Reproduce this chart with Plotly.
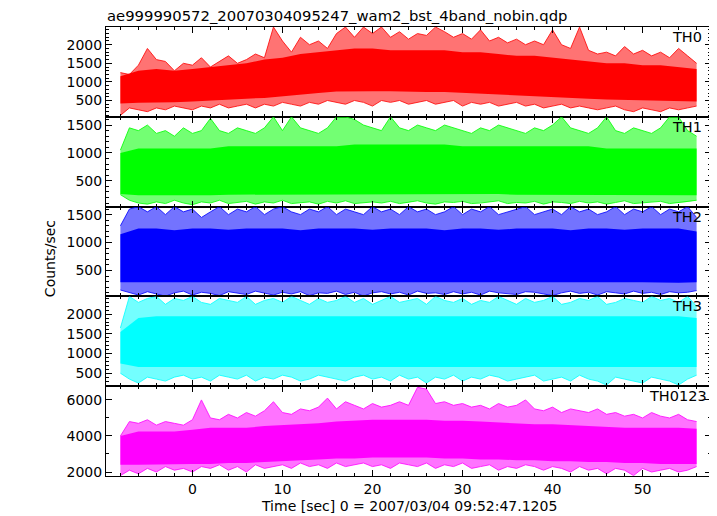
import plotly.graph_objects as go
from plotly.subplots import make_subplots

# ---- data ----
# Dense-core envelope, 2-s bins
t_core = [-8, -6, -4, -2, 0, 2, 4, 6, 8, 10, 12, 14, 16, 18, 20, 22, 24, 26, 28, 30,
          32, 34, 36, 38, 40, 42, 44, 46, 48, 50, 52, 54, 56]
# Extreme (spike) envelope, 1-s bins
t_spk = list(range(-8, 57))

th0_core_hi = [1150, 1300, 1350, 1300, 1350, 1400, 1450, 1500, 1600, 1650, 1750, 1800, 1850, 1900, 1900, 1850,
               1850, 1850, 1850, 1800, 1800, 1750, 1700, 1700, 1650, 1600, 1550, 1500, 1500, 1450, 1450, 1400, 1350]
th0_core_lo = [420, 440, 450, 450, 470, 500, 530, 550, 570, 600, 650, 700, 740, 750, 750, 750,
               750, 730, 730, 710, 690, 670, 650, 630, 600, 570, 550, 530, 510, 500, 490, 480, 470]
th0_max = [1250, 1200, 1450, 1900, 1600, 1550, 1300, 1500, 1450, 1650, 1400, 1550, 1700, 1500, 1600, 1750,
           1650, 2476, 2100, 1800, 2200, 2000, 2100, 1900, 2300, 2476, 2200, 2476, 2300, 2476, 2200, 2350,
           2150, 2300, 2250, 2476, 2350, 2200, 2300, 2150, 2400, 2100, 2200, 2050, 2150, 2000, 2100, 2000,
           2400, 2000, 1900, 2476, 1850, 1750, 1800, 1700, 1950, 1750, 1850, 1700, 1800, 1650, 1900, 1700, 1500]
th0_min = [100, 300, 250, 200, 300, 250, 350, 300, 250, 350, 300, 400, 300, 350, 400, 300, 400, 350, 450, 400,
           350, 450, 400, 500, 450, 400, 500, 450, 350, 500, 450, 500, 400, 450, 500, 400, 450, 500, 350, 450,
           400, 450, 350, 400, 450, 350, 400, 300, 350, 400, 300, 350, 300, 250, 300, 350, 250, 200, 300, 250,
           200, 300, 250, 300, 350]

th1_core_hi = [1000, 1080, 1080, 1080, 1080, 1080, 1120, 1120, 1120, 1120, 1120, 1120, 1120, 1150, 1150, 1150,
               1150, 1150, 1150, 1120, 1120, 1120, 1120, 1120, 1120, 1120, 1120, 1080, 1080, 1080, 1080, 1080, 1080]
th1_core_lo = [260, 240, 240, 240, 240, 240, 250, 250, 250, 250, 250, 260, 260, 260, 260, 260,
               260, 260, 260, 260, 260, 260, 250, 250, 250, 250, 250, 250, 240, 240, 240, 240, 240]
th1_max = [1050, 1450, 1400, 1500, 1350, 1400, 1300, 1450, 1350, 1400, 1620, 1400, 1350, 1450, 1400, 1350,
           1450, 1648, 1400, 1648, 1450, 1400, 1350, 1450, 1648, 1648, 1600, 1500, 1450, 1400, 1648, 1450,
           1400, 1500, 1450, 1400, 1500, 1450, 1400, 1350, 1450, 1400, 1500, 1450, 1400, 1350, 1450, 1400,
           1500, 1648, 1450, 1400, 1350, 1450, 1648, 1400, 1350, 1450, 1400, 1350, 1450, 1648, 1648, 1400, 1300]
th1_min = [250, 150, 100, 80, 120, 90, 150, 100, 70, 120, 100, 150, 90, 110, 130, 80, 120, 100, 150, 90,
           110, 120, 80, 130, 100, 140, 90, 110, 120, 100, 130, 90, 110, 140, 100, 80, 120, 110, 130, 90,
           100, 120, 140, 90, 110, 100, 130, 80, 120, 110, 90, 130, 100, 120, 80, 110, 140, 90, 100, 120,
           130, 90, 110, 120, 150]

th2_core_hi = [1150, 1250, 1250, 1220, 1250, 1250, 1230, 1250, 1250, 1250, 1220, 1250, 1250, 1250, 1230, 1250,
               1250, 1250, 1220, 1250, 1250, 1230, 1250, 1250, 1250, 1220, 1250, 1250, 1230, 1250, 1250, 1250, 1200]
th2_core_lo = [290, 280, 280, 290, 290, 290, 280, 290, 290, 290, 280, 290, 290, 290, 290, 290,
               280, 290, 290, 290, 290, 280, 290, 290, 290, 290, 280, 290, 290, 290, 290, 280, 290]
th2_max = [1300, 1600, 1644, 1550, 1644, 1500, 1644, 1550, 1600, 1450, 1550, 1644, 1500, 1600, 1550, 1644,
           1500, 1600, 1644, 1550, 1500, 1600, 1550, 1644, 1500, 1600, 1550, 1500, 1644, 1550, 1600, 1500,
           1644, 1550, 1600, 1500, 1550, 1644, 1500, 1600, 1550, 1644, 1500, 1550, 1600, 1644, 1500, 1550,
           1600, 1500, 1644, 1550, 1600, 1500, 1550, 1644, 1500, 1600, 1550, 1644, 1500, 1600, 1550, 1644, 1450]
th2_min = [150, 100, 60, 120, 80, 40, 100, 130, 60, 110, 90, 50, 120, 100, 70, 130, 90, 60, 110, 80,
           120, 50, 100, 90, 130, 70, 110, 40, 100, 120, 80, 110, 60, 130, 90, 100, 70, 120, 80, 110,
           60, 130, 100, 90, 70, 120, 110, 80, 50, 100, 130, 90, 110, 60, 120, 100, 80, 130, 90, 110,
           70, 120, 100, 110, 140]

th3_core_hi = [1550, 1900, 1950, 1950, 1950, 1950, 1950, 1950, 1950, 1950, 1950, 1950, 1950, 1950, 1950, 1950,
               1950, 1950, 1950, 1950, 1950, 1950, 1950, 1950, 1950, 1950, 1950, 1950, 1950, 1950, 1950, 1950, 1900]
th3_core_lo = [750, 660, 660, 660, 660, 660, 670, 670, 670, 670, 670, 670, 670, 670, 670, 670,
               670, 670, 670, 670, 670, 670, 670, 670, 670, 670, 670, 660, 660, 660, 660, 660, 660]
th3_max = [1650, 2452, 2300, 2400, 2452, 2250, 2400, 2350, 2452, 2300, 2250, 2400, 2350, 2300, 2452, 2250,
           2350, 2400, 2300, 2452, 2350, 2250, 2400, 2300, 2350, 2452, 2300, 2400, 2250, 2350, 2452, 2300,
           2350, 2400, 2250, 2452, 2350, 2300, 2400, 2250, 2350, 2300, 2452, 2350, 2250, 2400, 2300, 2350,
           2452, 2250, 2300, 2400, 2350, 2452, 2250, 2300, 2400, 2350, 2300, 2452, 2350, 2400, 2300, 2452, 2200]
th3_min = [500, 350, 250, 400, 350, 300, 400, 450, 350, 400, 300, 450, 400, 350, 450, 300, 400, 350, 450, 400,
           300, 350, 450, 400, 350, 300, 400, 450, 350, 400, 300, 450, 350, 400, 250, 400, 350, 450, 300, 400,
           350, 450, 400, 300, 350, 400, 450, 300, 350, 400, 300, 450, 350, 300, 200, 400, 350, 300, 250, 400,
           350, 300, 200, 350, 450]

th0123_core_hi = [4000, 4250, 4250, 4250, 4350, 4450, 4450, 4450, 4550, 4600, 4650, 4700, 4800, 4850, 4900, 4900,
                  4900, 4900, 4850, 4850, 4800, 4750, 4700, 4650, 4650, 4600, 4550, 4500, 4450, 4450, 4450, 4450, 4400]
th0123_core_lo = [2400, 2400, 2420, 2420, 2450, 2450, 2500, 2500, 2550, 2600, 2650, 2700, 2750, 2750, 2800, 2800,
                  2800, 2800, 2750, 2750, 2700, 2700, 2650, 2650, 2600, 2600, 2550, 2550, 2500, 2500, 2450, 2450, 2450]
th0123_max = [4000, 4800, 4700, 4900, 4600, 4800, 4700, 4600, 4900, 6000, 5000, 4900, 5200, 5000, 5300, 5100,
              5400, 5900, 5300, 5200, 5500, 5400, 5600, 6100, 5500, 5900, 5700, 5500, 5800, 5600, 5700, 5900,
              5700, 6700, 6600, 5800, 5900, 5700, 5800, 5600, 5700, 5500, 5800, 5600, 5700, 6000, 5500, 5400,
              5600, 5300, 5500, 5400, 5300, 5500, 5200, 5300, 5100, 5200, 5000, 5300, 5100, 5000, 5200, 4900, 4800]
th0123_min = [1800, 2100, 1900, 2200, 2000, 2300, 2100, 2200, 2000, 2300, 2200, 2400, 2100, 2300, 2000, 2400,
              2200, 2300, 2400, 2200, 2500, 2300, 2400, 2200, 2500, 2300, 2400, 2500, 2300, 2400, 2200, 2500,
              2400, 2300, 2500, 2200, 2400, 2300, 2500, 2200, 2300, 2400, 2100, 2300, 2200, 2400, 2300, 2100,
              2300, 2200, 2000, 2300, 2100, 2200, 1900, 2200, 2100, 1800, 2200, 2000, 2100, 2200, 2000, 2100, 2300]

band_names = ["TH0", "TH1", "TH2", "TH3", "TH0123"]
band_colors = ["#ff0000", "#00ff00", "#0000ff", "#00ffff", "#ff00ff"]
band_light = ["rgba(255,0,0,0.55)", "rgba(0,255,0,0.55)", "rgba(0,0,255,0.55)",
              "rgba(0,255,255,0.55)", "rgba(255,0,255,0.55)"]
y_ranges = [[62, 2476], [36, 1648], [36, 1644], [170, 2452], [1778, 6761]]
y_dtick = [500, 500, 500, 500, 2000]
y_minor = [100, 100, 100, 100, 1000]
x_range = [-9.6, 57.6]

title_text = "ae999990572_20070304095247_wam2_bst_4band_nobin.qdp"
x_title = "Time [sec] 0 = 2007/03/04 09:52:47.1205"
y_title = "Counts/sec"

cores_hi = [th0_core_hi, th1_core_hi, th2_core_hi, th3_core_hi, th0123_core_hi]
cores_lo = [th0_core_lo, th1_core_lo, th2_core_lo, th3_core_lo, th0123_core_lo]
maxes = [th0_max, th1_max, th2_max, th3_max, th0123_max]
mins = [th0_min, th1_min, th2_min, th3_min, th0123_min]

FONT = "DejaVu Sans, Verdana, sans-serif"

fig = make_subplots(rows=5, cols=1, shared_xaxes=True, vertical_spacing=0)

for i in range(5):
    r = i + 1
    col = band_colors[i]
    # light extreme band between the 1-s maxima and minima
    fig.add_trace(go.Scatter(x=t_spk + t_spk[::-1], y=maxes[i] + mins[i][::-1], fill="toself",
                             fillcolor=band_light[i], line=dict(width=0), mode="lines",
                             hoverinfo="skip", showlegend=False), row=r, col=1)
    # jagged outlines of the extremes
    fig.add_trace(go.Scatter(x=t_spk, y=maxes[i], mode="lines", line=dict(color=col, width=1),
                             opacity=0.8, hoverinfo="skip", showlegend=False), row=r, col=1)
    fig.add_trace(go.Scatter(x=t_spk, y=mins[i], mode="lines", line=dict(color=col, width=1),
                             opacity=0.8, hoverinfo="skip", showlegend=False), row=r, col=1)
    # dense core
    fig.add_trace(go.Scatter(x=t_core + t_core[::-1], y=cores_hi[i] + cores_lo[i][::-1], fill="toself",
                             fillcolor=col, line=dict(width=0), mode="lines", name=band_names[i],
                             showlegend=False), row=r, col=1)
    fig.update_yaxes(range=y_ranges[i], dtick=y_dtick[i], tick0=0, ticks="inside", ticklen=6,
                     tickcolor="black", tickwidth=1,
                     minor=dict(ticks="inside", dtick=y_minor[i], ticklen=3, tickcolor="black"),
                     showline=True, linecolor="black", linewidth=1, mirror="ticks",
                     showgrid=False, zeroline=False,
                     tickfont=dict(family=FONT, size=14, color="black"), row=r, col=1)
    fig.update_xaxes(range=x_range, dtick=10, tick0=0, ticks="inside", ticklen=6, tickcolor="black",
                     minor=dict(ticks="inside", dtick=2, ticklen=3, tickcolor="black"),
                     showline=True, linecolor="black", linewidth=1, mirror="ticks",
                     showgrid=False, zeroline=False, showticklabels=(r == 5),
                     tickfont=dict(family=FONT, size=14, color="black"), row=r, col=1)
    yd = fig.layout["yaxis" + ("" if r == 1 else str(r))].domain
    fig.add_annotation(text=band_names[i], xref="paper", yref="paper", x=1, y=yd[1],
                       xanchor="right", yanchor="middle", xshift=(-2 if r == 5 else -7), yshift=-10,
                       showarrow=False, font=dict(family=FONT, size=14.5, color="black"))

fig.add_annotation(text=title_text, xref="paper", yref="paper", x=0, y=1, xanchor="left", yanchor="middle",
                   xshift=-1, yshift=11.5, showarrow=False, font=dict(family=FONT, size=14.8, color="black"))
fig.add_annotation(text=x_title, xref="paper", yref="paper", x=0.5, y=0, xanchor="center", yanchor="middle",
                   yshift=-30, showarrow=False, font=dict(family=FONT, size=14, color="black"))
fig.add_annotation(text=y_title, xref="paper", yref="paper", x=0, y=0.483, xanchor="center", yanchor="middle",
                   xshift=-56, textangle=-90, showarrow=False, font=dict(family=FONT, size=14, color="black"))

# page body has an 8px margin: figure placed at (8,8) so the plot area lands at x 106..711, y 27..476
fig.update_layout(width=709, height=508, margin=dict(l=98, r=6, t=19, b=40),
                  paper_bgcolor="white", plot_bgcolor="white", showlegend=False)

fig.write_html("out.html")
